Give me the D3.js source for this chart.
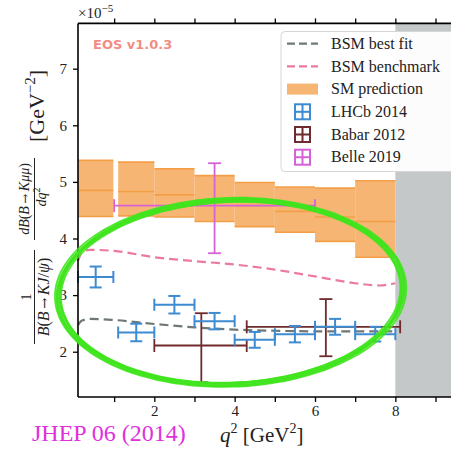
<!DOCTYPE html>
<html><head><meta charset="utf-8">
<script src="https://cdn.jsdelivr.net/npm/d3@7"></script>
<style>
html,body{margin:0;padding:0;background:#fff;overflow:hidden}
svg{display:block}
</style></head>
<body>
<script>
// ---------- data ----------
const smLo      = [0.1, 1.1, 2, 3, 4, 5, 6, 7];
const smHi      = [0.98, 2, 3, 4, 5, 6, 7, 8];
const smCentral = [4.85, 4.83, 4.77, 4.67, 4.58, 4.48, 4.38, 4.30];
const smLow     = [4.39, 4.40, 4.38, 4.30, 4.21, 4.11, 3.95, 3.67];
const smHigh    = [5.38, 5.35, 5.23, 5.11, 4.99, 4.91, 4.89, 5.02];

const lhcbQ   = [0.54, 1.55, 2.5, 3.5, 4.5, 5.5, 6.5, 7.5];
const lhcbLo  = [0.1, 1.1, 2, 3, 4, 5, 6, 7];
const lhcbHi  = [0.98, 2, 3, 4, 5, 6, 7, 8];
const lhcbVal = [3.32, 2.34, 2.83, 2.54, 2.21, 2.31, 2.44, 2.31];
const lhcbErr = [0.185, 0.155, 0.155, 0.145, 0.14, 0.145, 0.14, 0.13];

const babarQ   = [3.17, 6.27];
const babarLo  = [2.0, 4.3];
const babarHi  = [4.3, 8.12];
const babarVal = [2.11, 2.44];
const babarDn  = [0.65, 0.52];
const babarUp  = [0.57, 0.49];

const belleQ   = [3.5];
const belleLo  = [1.0];
const belleHi  = [6.0];
const belleVal = [4.58];
const belleDn  = [0.84];
const belleUp  = [0.75];

const bmQ   = [0.1, 0.2, 0.4, 1.0, 2, 3, 4, 5, 6, 7, 7.6, 8];
const bmVal = [3.60, 3.76, 3.80, 3.78, 3.67, 3.60, 3.54, 3.45, 3.33, 3.21, 3.17, 3.21];

const bfQ   = [0.1, 0.2, 0.4, 1.0, 2, 3, 4, 5, 6, 7, 8];
const bfVal = [2.47, 2.55, 2.58, 2.56, 2.49, 2.43, 2.39, 2.37, 2.36, 2.36, 2.36];

const xTicks = [1, 2, 3, 4, 5, 6, 7, 8, 9];
const xLabels = [2, 4, 6, 8];
const yTicks = [2, 3, 4, 5, 6, 7];

const legendLabels = ["BSM best fit", "BSM benchmark", "SM prediction", "LHCb 2014", "Babar 2012", "Belle 2019"];

// annotation ellipse (data units)
const ringCenter = [3.9, 3.05];
const ringRadii  = [4.3, 1.63];

// ---------- setup ----------
const W = 451, H = 458;
const C = {orange:"#f6b572", orangeLine:"#f39f48", blue:"#3d8bd0", brown:"#6e2a2c",
           violet:"#d662d8", pink:"#ec7aa0", gray:"#6f7777", shade:"#c4c8c9", green:"#3fe41d"};
const serif = "'Liberation Serif','DejaVu Serif',serif";

const svg = d3.select("body").append("svg").attr("width", W).attr("height", H);
const x = d3.scaleLinear().domain([0.1, 9.5]).range([78, 455.6]);
const y = d3.scaleLinear().domain([1.2, 7.8]).range([397, 23.4]);
const [X0, X1] = x.range(), [Y0, Y1] = y.range();

// gray excluded region
svg.append("rect").attr("x", x(8)).attr("y", Y1).attr("width", X1 - x(8)).attr("height", Y0 - Y1)
  .attr("fill", C.shade);

// SM bands
const sm = smLo.map((lo, i) => ({lo, hi: smHi[i], c: smCentral[i], l: smLow[i], h: smHigh[i]}));
const gSM = svg.append("g");
gSM.selectAll("rect").data(sm).join("rect")
  .attr("x", d => x(d.lo)).attr("width", d => x(d.hi) - x(d.lo))
  .attr("y", d => y(d.h)).attr("height", d => y(d.l) - y(d.h))
  .attr("fill", C.orange);
["h", "c", "l"].forEach(k => {
  gSM.selectAll("line." + k).data(sm).join("line").attr("class", k)
    .attr("x1", d => x(d.lo)).attr("x2", d => x(d.hi))
    .attr("y1", d => y(d[k])).attr("y2", d => y(d[k]))
    .attr("stroke", C.orangeLine).attr("stroke-width", 1.6);
});

// curves
const line = d3.line().x(d => x(d[0])).y(d => y(d[1])).curve(d3.curveMonotoneX);
svg.append("path").attr("d", line(bmQ.map((q, i) => [q, bmVal[i]])))
  .attr("fill", "none").attr("stroke", C.pink).attr("stroke-width", 2.2).attr("stroke-dasharray", "9,5");
svg.append("path").attr("d", line(bfQ.map((q, i) => [q, bfVal[i]])))
  .attr("fill", "none").attr("stroke", C.gray).attr("stroke-width", 2.2).attr("stroke-dasharray", "9,5");

// error bars
function errbars(q, lo, hi, val, dn, up, color, cap, sw) {
  const d = q.map((qq, i) => ({q: qq, lo: lo[i], hi: hi[i], v: val[i], dn: dn[i], up: up[i]}));
  const g = svg.append("g").attr("stroke", color).attr("stroke-width", sw).attr("fill", "none");
  g.selectAll("line.h").data(d).join("line").attr("class", "h")
    .attr("x1", e => x(e.lo)).attr("x2", e => x(e.hi)).attr("y1", e => y(e.v)).attr("y2", e => y(e.v));
  g.selectAll("line.v").data(d).join("line").attr("class", "v")
    .attr("x1", e => x(e.q)).attr("x2", e => x(e.q)).attr("y1", e => y(e.v - e.dn)).attr("y2", e => y(e.v + e.up));
  ["lo", "hi"].forEach(k => g.selectAll("line.c" + k).data(d).join("line").attr("class", "c" + k)
    .attr("x1", e => x(e[k])).attr("x2", e => x(e[k])).attr("y1", e => y(e.v) - cap).attr("y2", e => y(e.v) + cap));
  g.selectAll("line.ct").data(d).join("line").attr("class", "ct")
    .attr("x1", e => x(e.q) - cap).attr("x2", e => x(e.q) + cap).attr("y1", e => y(e.v + e.up)).attr("y2", e => y(e.v + e.up));
  g.selectAll("line.cb").data(d).join("line").attr("class", "cb")
    .attr("x1", e => x(e.q) - cap).attr("x2", e => x(e.q) + cap).attr("y1", e => y(e.v - e.dn)).attr("y2", e => y(e.v - e.dn));
}
errbars(babarQ, babarLo, babarHi, babarVal, babarDn, babarUp, C.brown, 6.5, 1.8);
errbars(lhcbQ, lhcbLo, lhcbHi, lhcbVal, lhcbErr, lhcbErr, C.blue, 6, 2);
errbars(belleQ, belleLo, belleHi, belleVal, belleDn, belleUp, C.violet, 6.5, 1.8);

// axes
const axB = svg.append("g").attr("transform", `translate(0,${Y0})`)
  .call(d3.axisBottom(x).tickValues(xTicks).tickSize(5).tickPadding(3)
    .tickFormat(d => xLabels.includes(d) ? d : ""));
const axT = svg.append("g").attr("transform", `translate(0,${Y1})`)
  .call(d3.axisTop(x).tickValues(xTicks).tickSize(5).tickFormat(""));
const axL = svg.append("g").attr("transform", `translate(${X0},0)`)
  .call(d3.axisLeft(y).tickValues(yTicks).tickSize(5).tickPadding(6).tickFormat(d3.format("d")));
[axB, axT, axL].forEach(a => {
  a.select(".domain").remove();
  a.selectAll("line").attr("stroke", "#000").attr("stroke-width", 1.3);
  a.selectAll("text").attr("font-family", serif).attr("font-size", 15).attr("fill", "#222");
});
// spines
svg.append("line").attr("x1", X0).attr("x2", X1).attr("y1", Y0).attr("y2", Y0).attr("stroke", "#000").attr("stroke-width", 1.6);
svg.append("line").attr("x1", X0).attr("x2", X1).attr("y1", Y1).attr("y2", Y1).attr("stroke", "#000").attr("stroke-width", 1.6);
svg.append("line").attr("x1", X0).attr("x2", X0).attr("y1", Y1).attr("y2", Y0).attr("stroke", "#000").attr("stroke-width", 1.6);

// offset text x10^-5
const off = svg.append("text").attr("x", 78).attr("y", 18).attr("font-family", serif).attr("font-size", 15).attr("fill", "#222");
off.append("tspan").text("×10");
off.append("tspan").attr("dy", -6).attr("font-size", 11).text("−5");

// EOS label
svg.append("text").attr("x", 93).attr("y", 49).attr("font-family", "'DejaVu Sans',sans-serif").attr("font-weight", "bold")
  .attr("font-size", 13).attr("fill", "#f08d84").text("EOS v1.0.3");

// legend
const lg = svg.append("g");
lg.append("rect").attr("x", 281).attr("y", 31.5).attr("width", 190).attr("height", 140).attr("rx", 4)
  .attr("fill", "#fff").attr("fill-opacity", 0.95).attr("stroke", "#d6d6d6").attr("stroke-width", 1);
const rowY = i => 43.7 + i * 22.7;
lg.append("line").attr("x1", 287).attr("x2", 318).attr("y1", rowY(0)).attr("y2", rowY(0))
  .attr("stroke", C.gray).attr("stroke-width", 2.2).attr("stroke-dasharray", "8,4");
lg.append("line").attr("x1", 287).attr("x2", 318).attr("y1", rowY(1)).attr("y2", rowY(1))
  .attr("stroke", C.pink).attr("stroke-width", 2.2).attr("stroke-dasharray", "8,4");
lg.append("rect").attr("x", 287).attr("y", rowY(2) - 5.5).attr("width", 31).attr("height", 11).attr("fill", C.orange);
[C.blue, C.brown, C.violet].forEach((c, j) => {
  const cy = rowY(3 + j), cx = 302.5;
  const g = lg.append("g").attr("stroke", c).attr("stroke-width", 2).attr("fill", "none");
  g.append("rect").attr("x", cx - 7.5).attr("y", cy - 7.5).attr("width", 15).attr("height", 15);
  g.append("line").attr("x1", cx - 7.5).attr("x2", cx + 7.5).attr("y1", cy).attr("y2", cy);
  g.append("line").attr("x1", cx).attr("x2", cx).attr("y1", cy - 7.5).attr("y2", cy + 7.5);
});
lg.selectAll("text").data(legendLabels).join("text")
  .attr("x", 331).attr("y", (d, i) => rowY(i) + 5.2)
  .attr("font-family", serif).attr("font-size", 16).attr("fill", "#222").text(d => d);

// y label (rotated)
const yl = svg.append("g").attr("transform", "rotate(-90)").attr("font-family", serif).attr("fill", "#222");
function rt(parent, cy, base, size, parts) {
  const t = parent.append("text").attr("x", -cy).attr("y", base).attr("text-anchor", "middle").attr("font-size", size);
  parts.forEach(p => {
    const s = t.append("tspan").text(p[0]);
    if (p[1] === 1) s.attr("font-style", "italic");
    if (p[1] === 2) s.attr("font-family", "'DejaVu Serif',serif");
    if (p[2]) s.attr("font-size", p[2]);
    if (p[3]) s.attr("dy", p[3]);
  });
  return t;
}
// 1 / B(B->KJ/psi)
rt(yl, 297, 31, 14, [["1"]]);
yl.append("line").attr("x1", -344).attr("x2", -250).attr("y1", 34.5).attr("y2", 34.5).attr("stroke", "#222").attr("stroke-width", 1);
rt(yl, 297, 49, 16, [["B", 1], ["("], ["B", 1], ["\u2009→\u2009", 2, 13], ["K", 1], ["J", 1], ["/"], ["ψ", 1], [")"]]);
// dB(B->Kmumu)/dq^2
rt(yl, 199, 29, 14, [["d", 1], ["B", 1], ["("], ["B", 1], ["\u2009→\u2009", 2, 12], ["K", 1], ["μμ", 1], [")"]]);
yl.append("line").attr("x1", -240).attr("x2", -158).attr("y1", 34.5).attr("y2", 34.5).attr("stroke", "#222").attr("stroke-width", 1);
rt(yl, 197, 46, 14, [["dq", 1], ["2", 0, 10, -6]]);
// [GeV^-2]
rt(yl, 106, 44, 22, [["[GeV"], ["−2", 0, 15, -9], ["]", 0, 22, 9]]);

// x label
const xl = svg.append("text").attr("x", 220).attr("y", 442).attr("font-family", serif).attr("font-size", 21).attr("fill", "#222");
xl.append("tspan").attr("font-style", "italic").text("q");
xl.append("tspan").attr("font-size", 14).attr("dy", -9).text("2");
xl.append("tspan").attr("dy", 9).text(" [GeV");
xl.append("tspan").attr("font-size", 14).attr("dy", -9).text("2");
xl.append("tspan").attr("dy", 9).text("]");

// JHEP annotation
svg.append("text").attr("x", 32).attr("y", 441).attr("font-family", serif).attr("font-size", 24)
  .attr("fill", "#e030dc").text("JHEP 06 (2014)");

// hand drawn green ellipse
const cxp = x(ringCenter[0]), cyp = y(ringCenter[1]);
const rxp = x(ringCenter[0] + ringRadii[0]) - cxp, ryp = cyp - y(ringCenter[1] + ringRadii[1]);
const ring = d3.line().curve(d3.curveCardinalClosed);
const passes = [[-3, -2, -2.2], [-1.5, -1, -1.8], [0, 0, -2.0], [1.5, 1, -2.3], [3, 2.2, -1.9], [0.8, -1.8, -2.6], [-2, 1.5, -1.6]];
passes.forEach(([drx, dry, rotDeg]) => {
  const a = rotDeg * Math.PI / 180;
  const pts = d3.range(0, 2 * Math.PI, Math.PI / 60).map(t => {
    const px = (rxp + drx) * Math.cos(t), py = (ryp + dry) * Math.sin(t);
    return [cxp + px * Math.cos(a) - py * Math.sin(a), cyp + px * Math.sin(a) + py * Math.cos(a)];
  });
  svg.append("path").attr("d", ring(pts)).attr("fill", "none").attr("stroke", C.green)
    .attr("stroke-width", 1.8).attr("stroke-opacity", 0.9);
});
</script>
</body></html>
